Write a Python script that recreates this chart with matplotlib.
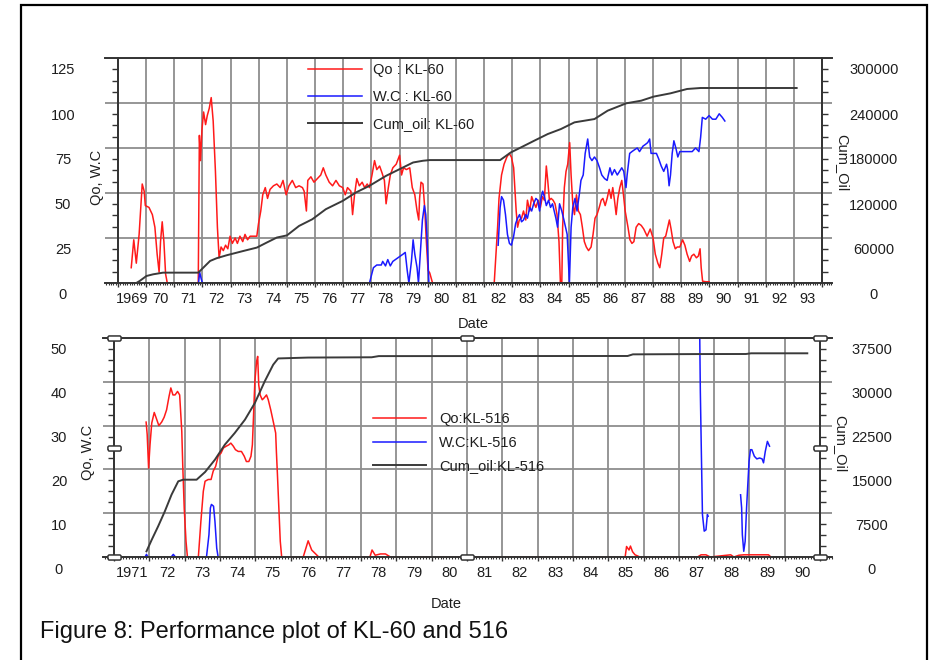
import numpy as np
import matplotlib
matplotlib.use('Agg')
import matplotlib.pyplot as plt
from matplotlib.ticker import MultipleLocator, AutoMinorLocator
from matplotlib.transforms import ScaledTranslation
from matplotlib.path import Path
from matplotlib.patches import Rectangle

plt.rcParams['font.family'] = ['Liberation Sans', 'DejaVu Sans']
plt.rcParams['font.size'] = 10.5

nan = np.nan

# ---------------- KL-60 ----------------
kl60_qo_t = [1969.47, 1969.56, 1969.65, 1969.75, 1969.86, 1969.93, 1969.97, 1970.10, 1970.22, 1970.31,
             1970.39, 1970.46, 1970.51, 1970.57, 1970.63, 1970.69, 1970.75, 1971.85, 1971.89, 1971.93,
             1971.98, 1972.04, 1972.11, 1972.17, 1972.24, 1972.31, 1972.38, 1972.46, 1972.53, 1972.59,
             1972.66, 1972.74, 1972.82, 1972.90, 1972.98, 1973.06, 1973.16, 1973.24, 1973.33, 1973.43,
             1973.51, 1973.60, 1973.69, 1973.81, 1973.93, 1973.99, 1974.07, 1974.14, 1974.23, 1974.31,
             1974.40, 1974.52, 1974.64, 1974.76, 1974.86, 1974.97, 1975.07, 1975.19, 1975.31, 1975.43,
             1975.55, 1975.61, 1975.69, 1975.74, 1975.85, 1975.96, 1976.08, 1976.20, 1976.29, 1976.38,
             1976.50, 1976.62, 1976.74, 1976.86, 1976.98, 1977.07, 1977.15, 1977.27, 1977.33, 1977.40,
             1977.48, 1977.57, 1977.67, 1977.76, 1977.85, 1977.93, 1978.02, 1978.11, 1978.19, 1978.29,
             1978.38, 1978.46, 1978.52, 1978.60, 1978.67, 1978.76, 1978.88, 1979.00, 1979.07, 1979.14,
             1979.24, 1979.36, 1979.45, 1979.54, 1979.62, 1979.68, 1979.71, 1979.76, 1979.83, 1979.89,
             1979.95, 1980.01, 1980.07, 1980.17, 1982.36, 1982.42, 1982.48, 1982.53, 1982.62, 1982.71,
             1982.81, 1982.89, 1982.97, 1983.05, 1983.09, 1983.14, 1983.19, 1983.25, 1983.33, 1983.40,
             1983.48, 1983.54, 1983.62, 1983.69, 1983.76, 1983.84, 1983.92, 1984.00, 1984.07, 1984.14,
             1984.21, 1984.26, 1984.32, 1984.38, 1984.45, 1984.52, 1984.59, 1984.66, 1984.71, 1984.76,
             1984.79, 1984.85, 1984.91, 1984.97, 1985.04, 1985.09, 1985.15, 1985.21, 1985.28, 1985.35,
             1985.42, 1985.49, 1985.56, 1985.63, 1985.71, 1985.80, 1985.87, 1985.94, 1986.01, 1986.09,
             1986.16, 1986.22, 1986.30, 1986.37, 1986.44, 1986.51, 1986.57, 1986.63, 1986.69, 1986.75,
             1986.82, 1986.89, 1986.95, 1987.01, 1987.11, 1987.18, 1987.25, 1987.32, 1987.40, 1987.49,
             1987.58, 1987.67, 1987.79, 1987.90, 1988.00, 1988.08, 1988.17, 1988.24, 1988.31, 1988.38,
             1988.45, 1988.52, 1988.58, 1988.64, 1988.71, 1988.79, 1988.86, 1988.95, 1989.05, 1989.13,
             1989.21, 1989.30, 1989.37, 1989.45, 1989.54, 1989.61, 1989.67, 1989.71, 1989.76, 1989.87,
             1989.99]
kl60_qo = [8.5, 24, 11, 27, 55, 51, 43, 42, 38, 31,
           16, 6, 23, 34, 23, 5, 0, 0, 82, 68,
           85, 95, 88, 93, 97, 103, 90, 62, 31, 14,
           20, 18, 21, 19, 26, 22, 25, 22, 26, 23,
           27, 24, 26, 26, 26, 33, 40, 49, 53, 47,
           52, 54, 55, 53, 57, 49, 54, 57, 53, 54,
           53, 51, 40, 57, 59, 56, 58, 60, 64, 60,
           56, 54, 57, 54, 53, 49, 53, 51, 38, 49,
           58, 54, 56, 53, 55, 53, 60, 68, 63, 65,
           61, 57, 44, 53, 60, 64, 66, 71, 60, 64,
           63, 64, 53, 49, 40, 35, 47, 56, 55, 42,
           23, 7, 5.6, 0, 0, 16, 31, 47, 60, 66,
           70, 72, 70, 64, 53, 40, 31, 35, 36, 40,
           35, 46, 40, 48, 45, 42, 46, 42, 48, 46,
           65, 57, 46, 47, 46, 44, 38, 23, 0, 0,
           31, 53, 62, 66, 78, 60, 44, 38, 49, 40,
           38, 31, 23, 20, 18, 20, 27, 36, 38, 42,
           46, 47, 43, 47, 52, 47, 53, 46, 38, 47,
           53, 57, 49, 40, 31, 24, 22, 23, 31, 33,
           32, 30, 26, 30, 25, 16, 11, 8.5, 16, 25,
           26, 31, 35, 30, 23, 19, 20, 20, 24, 21,
           16, 12, 15, 16, 14, 15, 19, 8.5, 1, 0.7,
           0.7]

kl60_wc_t = [1971.86, 1971.90, 1971.96, 1972.00, nan,
             1977.93, 1978.07, 1978.19, 1978.35, 1978.40, 1978.50, 1978.58, 1978.67, 1978.76, 1978.94,
             1979.12, 1979.20, 1979.27, 1979.33, 1979.42, 1979.48, 1979.54, 1979.62, 1979.67, 1979.74,
             1979.81, 1979.88, 1979.93, 1979.98, 1980.04, nan,
             1982.50, 1982.57, 1982.62, 1982.69, 1982.76, 1982.83, 1982.90, 1982.97, 1983.05, 1983.12,
             1983.19, 1983.26, 1983.33, 1983.40, 1983.48, 1983.54, 1983.62, 1983.69, 1983.76, 1983.84,
             1983.90, 1983.97, 1984.02, 1984.08, 1984.14, 1984.21, 1984.29, 1984.36, 1984.43, 1984.49,
             1984.55, 1984.61, 1984.68, 1984.76, 1984.85, 1984.95, 1985.03, 1985.09, 1985.15, 1985.23,
             1985.30, 1985.38, 1985.44, 1985.52, 1985.59, 1985.68, 1985.75, 1985.83, 1985.92, 1986.01,
             1986.10, 1986.18, 1986.28, 1986.37, 1986.47, 1986.54, 1986.63, 1986.73, 1986.81, 1986.89,
             1986.96, 1987.04, 1987.08, 1987.17, 1987.25, 1987.34, 1987.44, 1987.52, 1987.64, 1987.73,
             1987.81, 1987.88, 1987.93, 1988.02, 1988.12, 1988.20, 1988.29, 1988.38, 1988.48, 1988.52,
             1988.57, 1988.62, 1988.68, 1988.74, 1988.81, 1988.88, 1988.95, 1989.04, 1989.15, 1989.27,
             1989.39, 1989.51, 1989.63, 1989.69, 1989.75, 1989.87, 1989.99, 1990.11, 1990.23, 1990.35,
             1990.46, 1990.55]
kl60_wc = [0, 6, 2, 0, nan,
           0, 8.5, 10, 10, 12, 9.5, 13, 9.5, 12, 14,
           16, 17, 7, 0, 12, 24, 16, 8.5, 0, 18,
           35, 43, 38, 23, 0, nan,
           21, 42, 48, 46, 38, 27, 22, 21, 26, 33,
           36, 38, 34, 35, 38, 36, 42, 40, 44, 47,
           46, 40, 47, 51, 48, 43, 46, 42, 44, 40,
           36, 31, 44, 40, 34, 27, 0, 31, 42, 47,
           40, 49, 57, 60, 72, 80, 70, 68, 70, 68,
           64, 60, 58, 57, 64, 60, 63, 60, 62, 64,
           62, 53, 60, 72, 73, 74, 75, 73, 76, 77,
           78, 80, 72, 72, 72, 69, 65, 62, 66, 63,
           54, 60, 72, 79, 75, 70, 73, 73, 73, 73,
           73, 75, 73, 81, 92, 91, 93, 91, 91, 94,
           92, 90]

kl60_cum_t = [1969.65, 1969.77, 1970.01, 1970.25, 1970.60, 1971.85, 1971.91, 1972.09, 1972.27, 1972.50,
              1972.86, 1973.45, 1973.93, 1974.28, 1974.64, 1975.00, 1975.43, 1975.90, 1976.38, 1976.98,
              1977.45, 1977.93, 1978.52, 1979.00, 1979.48, 1979.83, 1980.07, 1982.57, 1982.95, 1983.31,
              1983.78, 1984.26, 1984.73, 1985.21, 1985.92, 1986.39, 1987.05, 1987.58, 1988.02, 1988.62,
              1989.21, 1989.69, 1993.10]
kl60_cum = [0, 2700, 9350, 11600, 13800, 13800, 16000, 22700, 29400, 33000,
            37000, 42700, 47200, 53900, 60600, 63500, 76100, 85000, 98400, 109500,
            120700, 129600, 142900, 151800, 160700, 163000, 163900, 163900, 174100, 180800,
            189700, 198600, 205300, 214200, 218600, 229800, 239600, 243100, 248500, 252900,
            258700, 260000, 260000]

# ---------------- KL-516 ----------------
kl516_qo_t = [1971.91, 1971.94, 1971.98, 1972.02, 1972.07, 1972.14, 1972.21, 1972.27, 1972.35, 1972.42,
              1972.49, 1972.56, 1972.61, 1972.67, 1972.73, 1972.80, 1972.86, 1972.92, 1972.95, 1972.99,
              1973.04, 1973.08, 1973.39, 1973.46, 1973.53, 1973.58, 1973.67, 1973.75, 1973.81, 1973.88,
              1973.95, 1974.03, 1974.10, 1974.18, 1974.25, 1974.31, 1974.38, 1974.44, 1974.52, 1974.61,
              1974.69, 1974.75, 1974.82, 1974.88, 1974.92, 1974.95, 1974.99, 1975.04, 1975.07, 1975.10,
              1975.14, 1975.20, 1975.25, 1975.32, 1975.37, 1975.44, 1975.52, 1975.58, 1975.60, 1975.63,
              1975.67, 1975.71, 1975.75, 1976.36, 1976.50, 1976.60, 1976.80, 1978.25, 1978.31, 1978.40,
              1978.55, 1978.69, 1978.83, 1985.48, 1985.52, 1985.59, 1985.63, 1985.69, 1985.76, 1985.90,
              1987.53, 1987.63, 1987.77, 1987.89, 1988.47, 1988.56, 1988.70, 1988.84, 1989.03, 1989.31,
              1989.54, 1989.61]
kl516_qo = [30.8, 28, 20.3, 25.6, 30.6, 33, 31.4, 30, 30.8, 31.9,
            33.6, 36.7, 38.6, 37, 37, 37.8, 37, 28.7, 20.3, 11,
            3.6, 0, 0, 8, 15, 17.3, 17.7, 17.7, 19.6, 20.7,
            23, 23.7, 24.9, 25.3, 25.6, 26, 25.3, 24.5, 24.1, 24.1,
            23, 21.8, 21.8, 23, 25.6, 31.7, 40.1, 44.7, 45.8, 39.3,
            37, 35.9, 36.3, 37, 35.9, 33.6, 30.6, 28.3, 24.1, 18.8,
            11.2, 3.6, 0, 0, 3.7, 1.6, 0, 0, 1.6, 0.4,
            0.7, 0.7, 0, 0, 2.4, 1.6, 2.5, 1.2, 0.5, 0,
            0, 0.5, 0.5, 0, 0.5, 0, 0.4, 0.5, 0.5, 0.5,
            0.5, 0]

kl516_wc_t = [1971.88, 1971.92, 1971.96, nan, 1972.62, 1972.68, 1972.74, nan,
              1973.62, 1973.69, 1973.73, 1973.76, 1973.82, 1973.86, 1973.91, 1973.95, nan,
              1987.58, 1987.61, 1987.64, 1987.67, 1987.72, 1987.77, 1987.81, 1987.83, nan,
              1988.75, 1988.78, 1988.80, 1988.84, 1988.88, 1988.92, 1988.95, 1988.99, 1989.03, 1989.07,
              1989.14, 1989.21, 1989.29, 1989.36, 1989.40, 1989.45, 1989.51, 1989.57]
kl516_wc = [0, 0.6, 0, nan, 0, 0.6, 0, nan,
            0, 5.1, 11.2, 12, 11.6, 8.1, 2, 0, nan,
            60, 37.8, 23.4, 9.7, 5.9, 6.2, 9.7, 9.3, nan,
            14.2, 11.2, 5.1, 1.3, 3.6, 11.2, 15.8, 21.8, 24.5, 24.5,
            23, 22.4, 22.6, 22.4, 21.5, 24.1, 26.4, 25.3]

kl516_cum_t = [1971.92, 1972.07, 1972.25, 1972.44, 1972.63, 1972.82, 1972.96, 1973.34, 1973.58, 1973.86,
               1974.14, 1974.42, 1974.71, 1974.99, 1975.27, 1975.51, 1975.65, 1976.50, 1978.30, 1978.50,
               1985.55, 1985.70, 1987.60, 1988.90, 1989.05, 1990.64]
kl516_cum = [970, 2970, 5250, 7820, 10670, 12960, 13240, 13240, 14550, 16670,
             19240, 21230, 23520, 26370, 30080, 32930, 34000, 34150, 34200, 34400,
             34420, 34700, 34750, 34760, 34880, 34880]

W, H = 930, 660
GRID = '#8e8e8e'
EDGE = '#333333'
TXT = '#1e1e1e'

fig = plt.figure(figsize=(W / 100, H / 100), dpi=100)


def px_box(x0, y0, x1, y1):
    return [x0 / W, 1 - y1 / H, (x1 - x0) / W, (y1 - y0) / H]


def shift(dx, dy):
    return ScaledTranslation(dx / 100, dy / 100, fig.dpi_scale_trans)


def make_panel(box, first, last, xlim, ymax, ystep, y2max, y2step):
    ax = fig.add_axes(box)
    ax2 = ax.twinx()
    ax.spines['left'].set_position(('data', first))
    ax.spines['right'].set_visible(False)
    for s in ['left', 'top', 'bottom']:
        ax2.spines[s].set_visible(False)
    ax2.spines['right'].set_position(('data', last))
    for sp in [ax.spines['left'], ax.spines['top'], ax.spines['bottom'], ax2.spines['right']]:
        sp.set_color(EDGE)
        sp.set_linewidth(1.4)

    ax.set_xlim(*xlim)
    ax.set_ylim(0, ymax)
    ax2.set_ylim(0, y2max)

    years = np.arange(first, last + 1)
    ax.set_xticks(years)
    ax.set_xticklabels([str(y) if y == first else ('' if y == last else '%02d' % (y % 100)) for y in years])
    ax.xaxis.set_minor_locator(MultipleLocator(1 / 12))
    ax.set_yticks(np.arange(0, ymax + 1, ystep))
    ax.yaxis.set_minor_locator(AutoMinorLocator(4))
    ax2.set_yticks(np.arange(0, y2max + 1, y2step))
    ax2.set_yticklabels(['%d' % v for v in np.arange(0, y2max + 1, y2step)])
    ax2.yaxis.set_minor_locator(AutoMinorLocator(4))

    ax.tick_params(axis='x', which='major', length=3, width=1, color=EDGE, pad=3.5, labelcolor=TXT)
    ax.tick_params(axis='x', which='minor', length=1.5, width=0.8, color=EDGE)
    ax.tick_params(axis='y', which='major', length=0, pad=0, labelcolor=TXT)
    ax.tick_params(axis='y', which='minor', length=4.3, width=1, color=EDGE)
    ax2.tick_params(axis='y', which='major', length=0, pad=0, labelcolor=TXT)
    ax2.tick_params(axis='y', which='minor', length=4.3, width=1, color=EDGE)

    ax.grid(True, which='major', color=GRID, linewidth=1.3)
    ax.set_axisbelow(True)
    return ax, ax2


def fix_labels(ax, ax2, half_year_px):
    for t in ax.xaxis.get_major_ticks():
        t.label1.set_transform(t.label1.get_transform() + shift(half_year_px, 0))
    for t in ax.yaxis.get_major_ticks():
        t.label1.set_horizontalalignment('center')
        t.label1.set_transform(t.label1.get_transform() + shift(-55, -11))
    for t in ax2.yaxis.get_major_ticks():
        t.label2.set_horizontalalignment('center')
        t.label2.set_transform(t.label2.get_transform() + shift(52, -11))


# ---------------- top panel ----------------
top_xlim = (1969 - 13 / 28.16, 1994 + 10 / 28.16)
ax1, ax1b = make_panel(px_box(105, 58, 832, 283), 1969, 1994, top_xlim, 125, 25, 300000, 60000)
l1, = ax1.plot(kl60_qo_t, kl60_qo, color='#ff1a1a', lw=1.1, label='Qo : KL-60')
l2, = ax1.plot(kl60_wc_t, kl60_wc, color='#1a1aff', lw=1.1, label='W.C : KL-60')
l3, = ax1b.plot(kl60_cum_t, kl60_cum, color='#3a3a3a', lw=1.4, label='Cum_oil: KL-60')
ax1b.legend(handles=[l1, l2, l3], loc='upper left', bbox_to_anchor=(308 / W, 1 - 63 / H),
            bbox_transform=fig.transFigure, frameon=False, borderpad=0, borderaxespad=0,
            handlelength=3.7, handletextpad=0.75, labelspacing=0.9, labelcolor=TXT)
ax1.set_xlabel('Date', color=TXT, va='center')
ax1.xaxis.set_label_coords(473 / W, 1 - 324 / H, transform=fig.transFigure)
ax1.set_ylabel('Qo, W.C', color=TXT, va='center')
ax1.yaxis.set_label_coords(97 / W, 1 - 177 / H, transform=fig.transFigure)
ax1b.set_ylabel('Cum_Oil', color=TXT, va='center', rotation=270)
ax1b.yaxis.set_label_coords(842 / W, 1 - 163 / H, transform=fig.transFigure)

# ---------------- bottom panel ----------------
bot_xlim = (1971 - 11 / 35.3, 1991 + 12 / 35.3)
ax2, ax2b = make_panel(px_box(103, 338, 832, 557), 1971, 1991, bot_xlim, 50, 10, 37500, 7500)
m1, = ax2.plot(kl516_qo_t, kl516_qo, color='#ff1a1a', lw=1.1, label='Qo:KL-516')
m2, = ax2.plot(kl516_wc_t, kl516_wc, color='#1a1aff', lw=1.1, label='W.C:KL-516')
m3, = ax2b.plot(kl516_cum_t, kl516_cum, color='#3a3a3a', lw=1.4, label='Cum_oil:KL-516')
ax2b.legend(handles=[m1, m2, m3], loc='upper left', bbox_to_anchor=(373 / W, 1 - 412 / H),
            bbox_transform=fig.transFigure, frameon=False, borderpad=0, borderaxespad=0,
            handlelength=3.6, handletextpad=0.95, labelspacing=0.66, labelcolor=TXT)
ax2.set_xlabel('Date', color=TXT, va='center')
ax2.xaxis.set_label_coords(446 / W, 1 - 604 / H, transform=fig.transFigure)
ax2.set_ylabel('Qo, W.C', color=TXT, va='center')
ax2.yaxis.set_label_coords(88 / W, 1 - 452 / H, transform=fig.transFigure)
ax2b.set_ylabel('Cum_Oil', color=TXT, va='center', rotation=270)
ax2b.yaxis.set_label_coords(840 / W, 1 - 444 / H, transform=fig.transFigure)

# selection handles of the active (lower) chart
handle = Path([(-1.3, -0.3), (-1.1, -0.5), (1.1, -0.5), (1.3, -0.3), (1.3, 0.3),
               (1.1, 0.5), (-1.1, 0.5), (-1.3, 0.3), (-1.3, -0.3)])
hx = [1971, 1971, 1971, 1981, 1981, 1991, 1991, 1991]
hy = [0, 18750, 37500, 0, 37500, 0, 18750, 37500]
ax2b.plot(hx, hy, ls='none', marker=handle, ms=9.5, mfc='white', mec=EDGE, mew=1.1,
          clip_on=False, zorder=10)

fix_labels(ax1, ax1b, 28.16 / 2)
fix_labels(ax2, ax2b, 35.3 / 2)

fig.text(40 / W, 1 - 632 / H, 'Figure 8: Performance plot of KL-60 and 516', ha='left', va='center',
         fontsize=17, color='#111111')

fig.add_artist(Rectangle((21 / W, -0.05), (927 - 21) / W, 1.05 - 5 / H, transform=fig.transFigure,
                         fill=False, ec='black', lw=1.6, clip_on=False))

fig.savefig('out.png', dpi=100)
